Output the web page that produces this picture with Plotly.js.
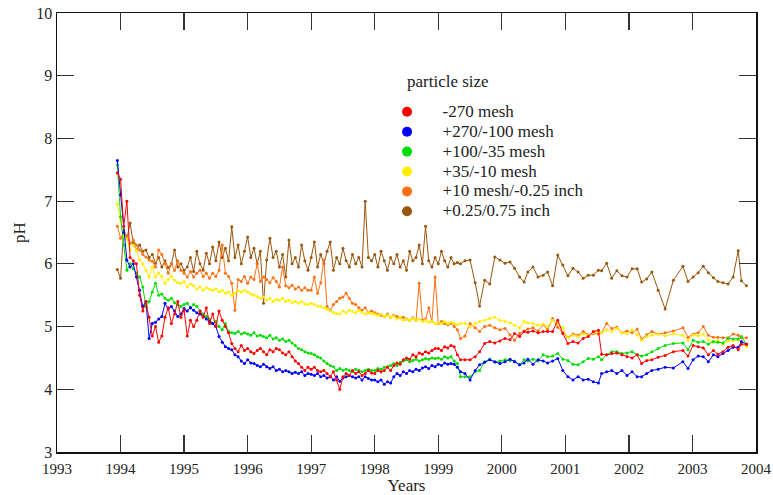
<!DOCTYPE html>
<html>
<head>
<meta charset="utf-8">
<script src="https://cdn.plot.ly/plotly-3.0.1.min.js"></script>
<style>
  html, body { margin: 0; padding: 0; background: #ffffff; }
  #chart { width: 773px; height: 495px; }
</style>
</head>
<body>
<div id="chart"></div>
<script>
// Sampling dates (decimal years): frequent sampling to early 1999, monthly afterwards
const yearsFrequent = [1993.95,
  1994.00, 1994.05, 1994.10, 1994.15, 1994.20, 1994.25, 1994.30, 1994.35, 1994.40, 1994.45,
  1994.50, 1994.55, 1994.60, 1994.65, 1994.70, 1994.75, 1994.80, 1994.85, 1994.90, 1994.95,
  1995.00, 1995.05, 1995.10, 1995.15, 1995.20, 1995.25, 1995.30, 1995.35, 1995.40, 1995.45,
  1995.50, 1995.55, 1995.60, 1995.65, 1995.70, 1995.75, 1995.80, 1995.85, 1995.90, 1995.95,
  1996.00, 1996.05, 1996.10, 1996.15, 1996.20, 1996.25, 1996.30, 1996.35, 1996.40, 1996.45,
  1996.50, 1996.55, 1996.60, 1996.65, 1996.70, 1996.75, 1996.80, 1996.85, 1996.90, 1996.95,
  1997.00, 1997.05, 1997.10, 1997.15, 1997.20, 1997.25, 1997.30, 1997.35, 1997.40, 1997.45,
  1997.50, 1997.55, 1997.60, 1997.65, 1997.70, 1997.75, 1997.80, 1997.85, 1997.90, 1997.95,
  1998.00, 1998.05, 1998.10, 1998.15, 1998.20, 1998.25, 1998.30, 1998.35, 1998.40, 1998.45,
  1998.50, 1998.55, 1998.60, 1998.65, 1998.70, 1998.75, 1998.80, 1998.85, 1998.90, 1998.95,
  1999.00, 1999.05, 1999.10, 1999.15, 1999.20, 1999.25, 1999.30, 1999.35];

const yearsMonthly = [
  1999.42, 1999.50, 1999.58, 1999.65, 1999.73, 1999.81, 1999.89, 1999.97,
  2000.05, 2000.13, 2000.20, 2000.28, 2000.35, 2000.41, 2000.49, 2000.57, 2000.65, 2000.72, 2000.80, 2000.88, 2000.96,
  2001.04, 2001.12, 2001.20, 2001.28, 2001.36, 2001.44, 2001.52, 2001.57, 2001.65, 2001.73, 2001.81, 2001.89, 2001.97,
  2002.05, 2002.13, 2002.20, 2002.28, 2002.36, 2002.46, 2002.57, 2002.70, 2002.85, 2002.93,
  2003.01, 2003.09, 2003.17, 2003.25, 2003.33, 2003.40, 2003.48, 2003.56, 2003.64, 2003.72, 2003.77, 2003.85];

// pH of leachate, -270 mesh
const phMinus270 = [7.45,
  7.35, 6.6, 7.0, 6.1, 6.05, 6.0, 5.5, 5.25, 5.4, 5.15, 4.85, 5.0, 4.75, 4.85, 5.15, 5.3, 5.05, 5.2, 5.4, 5.15,
  5.26, 4.85, 5.1, 5.0, 5.1, 5.25, 5.15, 5.3, 5.05, 5.2, 5.0, 5.25, 5.1, 5.0, 4.9, 4.73, 4.65, 4.6, 4.7, 4.62,
  4.65, 4.6, 4.57, 4.62, 4.65, 4.6, 4.55, 4.63, 4.6, 4.65, 4.63, 4.58, 4.55, 4.6, 4.52, 4.45, 4.41, 4.35, 4.3, 4.35,
  4.32, 4.35, 4.3, 4.28, 4.3, 4.25, 4.2, 4.28, 4.15, 4.0, 4.2, 4.25, 4.22, 4.3, 4.25, 4.28, 4.22, 4.25, 4.3, 4.26,
  4.25, 4.3, 4.28, 4.3, 4.35, 4.3, 4.38, 4.42, 4.4, 4.47, 4.5, 4.48, 4.55, 4.52, 4.58, 4.56, 4.6, 4.58, 4.62, 4.65,
  4.65, 4.62, 4.68, 4.66, 4.7, 4.68, 4.55, 4.47,
  4.47, 4.47, 4.52, 4.60, 4.73, 4.76, 4.74, 4.77,
  4.81, 4.79, 4.89, 4.84, 4.92, 4.91, 4.93, 4.90, 4.92, 4.92, 4.92, 5.10, 4.89,
  4.73, 4.76, 4.74, 4.81, 4.84, 4.92, 4.94, 4.56, 4.55, 4.57, 4.58, 4.55, 4.52,
  4.50, 4.55, 4.41, 4.46, 4.47, 4.51, 4.54, 4.60, 4.62, 4.53,
  4.70, 4.68, 4.66, 4.55, 4.62, 4.56, 4.60, 4.67, 4.70, 4.63, 4.72, 4.72];

// +270/-100 mesh
const ph270to100 = [7.65,
  7.1, 6.5, 6.06, 5.95, 6.0, 5.79, 5.58, 5.32, 5.4, 4.81, 5.05, 5.07, 5.12, 5.16, 5.37, 5.28, 5.32, 5.25, 5.16, 5.2,
  5.29, 5.25, 5.3, 5.26, 5.22, 5.2, 5.16, 5.12, 5.08, 5.05, 5.0, 4.84, 4.75, 4.68, 4.65, 4.63, 4.55, 4.52, 4.45, 4.41,
  4.47, 4.42, 4.41, 4.38, 4.36, 4.4, 4.36, 4.33, 4.36, 4.3, 4.32, 4.28, 4.3, 4.28, 4.25, 4.27, 4.25, 4.28, 4.22, 4.25,
  4.24, 4.22, 4.25, 4.2, 4.22, 4.18, 4.2, 4.15, 4.2, 4.13, 4.18, 4.2, 4.22, 4.2, 4.18, 4.2, 4.15, 4.2, 4.17, 4.15,
  4.15, 4.12, 4.15, 4.08, 4.12, 4.1, 4.2, 4.25, 4.22, 4.28, 4.25, 4.3, 4.28, 4.32, 4.3, 4.34, 4.36, 4.33, 4.38, 4.36,
  4.4, 4.38, 4.42, 4.4, 4.41, 4.4, 4.35, 4.28,
  4.25, 4.15, 4.30, 4.39, 4.43, 4.47, 4.44, 4.41,
  4.44, 4.48, 4.44, 4.39, 4.42, 4.48, 4.40, 4.47, 4.45, 4.42, 4.45, 4.49, 4.30,
  4.20, 4.15, 4.20, 4.15, 4.16, 4.12, 4.10, 4.25, 4.28, 4.30, 4.25, 4.30, 4.22,
  4.28, 4.20, 4.20, 4.25, 4.30, 4.32, 4.35, 4.34, 4.44, 4.33,
  4.47, 4.53, 4.52, 4.44, 4.55, 4.52, 4.57, 4.62, 4.67, 4.67, 4.76, 4.72];

// +100/-35 mesh
const ph100to35 = [7.58,
  6.75, 6.3, 5.9, 6.0, 5.92, 5.85, 5.79, 5.63, 5.32, 5.4, 5.55, 5.69, 5.5, 5.52, 5.45, 5.42, 5.45, 5.38, 5.35, 5.32,
  5.35, 5.37, 5.3, 5.35, 5.32, 5.25, 5.2, 5.16, 5.12, 5.05, 5.08, 5.0, 4.95, 5.05, 4.92, 4.9, 4.89, 4.92, 4.88, 4.9,
  4.88, 4.86, 4.9, 4.85, 4.86, 4.84, 4.82, 4.86, 4.8, 4.82, 4.78, 4.8, 4.76, 4.78, 4.74, 4.7, 4.65, 4.63, 4.6, 4.58,
  4.57, 4.55, 4.52, 4.5, 4.45, 4.41, 4.38, 4.36, 4.3, 4.33, 4.3, 4.32, 4.3, 4.28, 4.32, 4.3, 4.28, 4.3, 4.32, 4.3,
  4.3, 4.33, 4.32, 4.35, 4.36, 4.38, 4.41, 4.38, 4.43, 4.45, 4.47, 4.44, 4.46, 4.48, 4.45, 4.47, 4.49, 4.48, 4.5, 4.49,
  4.5, 4.48, 4.52, 4.5, 4.52, 4.45, 4.41, 4.2,
  4.20, 4.20, 4.28, 4.30, 4.44, 4.48, 4.43, 4.45,
  4.47, 4.46, 4.45, 4.39, 4.47, 4.45, 4.48, 4.45, 4.55, 4.52, 4.53, 4.57, 4.48,
  4.46, 4.40, 4.39, 4.44, 4.49, 4.48, 4.52, 4.47, 4.55, 4.60, 4.60, 4.57, 4.58,
  4.60, 4.55, 4.53, 4.55, 4.60, 4.65, 4.70, 4.73, 4.74, 4.63,
  4.78, 4.75, 4.76, 4.72, 4.76, 4.75, 4.74, 4.81, 4.80, 4.80, 4.84, 4.72];

// +35/-10 mesh
const ph35to10 = [6.95,
  6.7, 6.43, 6.4, 6.22, 6.3, 6.22, 6.06, 6.0, 5.9, 5.79, 5.95, 5.79, 5.85, 5.8, 5.69, 5.75, 5.8, 5.74, 5.7, 5.69,
  5.72, 5.63, 5.68, 5.65, 5.6, 5.63, 5.58, 5.62, 5.6, 5.58, 5.6, 5.55, 5.58, 5.53, 5.55, 5.5, 5.53, 5.57, 5.55, 5.58,
  5.55, 5.52, 5.5, 5.48, 5.45, 5.47, 5.42, 5.45, 5.4, 5.43, 5.42, 5.45, 5.4, 5.42, 5.38, 5.4, 5.37, 5.4, 5.36, 5.35,
  5.37, 5.35, 5.33, 5.32, 5.3, 5.28, 5.25, 5.22, 5.21, 5.2, 5.25, 5.22, 5.26, 5.24, 5.22, 5.26, 5.23, 5.2, 5.22, 5.21,
  5.2, 5.18, 5.2, 5.16, 5.18, 5.15, 5.17, 5.12, 5.15, 5.1, 5.12, 5.1, 5.13, 5.1, 5.12, 5.08, 5.1, 5.07, 5.08, 5.05,
  5.06, 5.05, 5.08, 5.05, 5.07, 5.05, 5.03, 5.05,
  5.05, 5.00, 5.05, 5.08, 5.10, 5.13, 5.15, 5.10,
  5.08, 5.06, 5.02, 4.98, 5.08, 5.06, 5.05, 5.02, 5.04, 5.00, 5.10, 5.05, 4.98,
  4.82, 4.86, 4.84, 4.88, 4.86, 4.90, 4.92, 4.90, 4.95, 4.92, 4.97, 4.90, 4.89,
  4.95, 4.87, 4.78, 4.84, 4.86, 4.88, 4.85, 4.88, 4.86, 4.78,
  4.87, 4.85, 4.88, 4.78, 4.75, 4.78, 4.72, 4.77, 4.78, 4.79, 4.72, 4.68];

// +10 mesh/-0.25 inch
const ph10toQuarter = [6.6,
  6.41, 6.5, 6.45, 6.33, 6.38, 6.3, 6.22, 6.15, 6.11, 6.06, 6.04, 5.95, 6.22, 6.15, 6.0, 5.85, 6.0, 5.9, 6.05, 5.9,
  5.85, 5.79, 5.88, 5.79, 5.85, 5.9, 5.8, 5.85, 5.77, 5.85, 5.8, 5.9, 6.3, 5.85, 5.8, 5.69, 5.26, 5.75, 5.72, 5.8,
  5.69, 5.79, 5.75, 6.0, 5.72, 5.79, 5.75, 5.7, 5.78, 5.72, 5.63, 5.95, 5.65, 5.62, 5.66, 5.6, 5.63, 5.58, 5.62, 5.58,
  5.58, 5.79, 5.53, 5.7, 6.06, 5.32, 5.26, 5.35, 5.4, 5.45, 5.47, 5.53, 5.45, 5.37, 5.35, 5.3, 5.26, 5.3, 5.22, 5.25,
  5.22, 5.2, 5.18, 5.16, 5.2, 5.15, 5.18, 5.16, 5.14, 5.15, 5.12, 5.1, 5.14, 5.1, 5.69, 5.1, 5.12, 5.3, 5.08, 5.79,
  5.05, 5.08, 5.05, 5.03, 5.05, 5.0, 4.95, 4.81,
  4.85, 5.05, 4.98, 4.92, 5.00, 5.02, 4.98, 4.95,
  4.97, 4.87, 4.78, 4.89, 4.93, 4.96, 4.98, 4.93, 5.03, 4.95, 5.13, 4.99, 4.90,
  4.83, 4.88, 4.86, 4.92, 4.87, 4.89, 4.88, 4.90, 5.05, 4.97, 4.99, 4.90, 4.93,
  4.90, 4.96, 4.80, 4.87, 4.92, 4.88, 4.90, 4.93, 4.98, 4.83,
  4.88, 4.90, 5.00, 4.86, 4.83, 4.83, 4.82, 4.82, 4.88, 4.86, 4.82, 4.82];

// +0.25/0.75 inch
const phQuarterTo075 = [5.91,
  5.77, 6.54, 6.4, 6.65, 6.33, 6.22, 6.3, 6.2, 6.22, 6.1, 6.15, 6.01, 6.1, 5.95, 6.05, 5.94, 6.0, 6.22, 5.95, 6.0,
  5.9, 5.95, 6.1, 5.88, 6.2, 6.0, 5.9, 6.17, 6.0, 6.27, 6.05, 6.35, 6.1, 6.25, 6.05, 6.59, 6.1, 6.3, 6.0, 6.2,
  6.43, 6.1, 6.25, 6.0, 6.2, 5.37, 6.06, 6.41, 6.1, 6.2, 5.95, 6.15, 5.79, 6.38, 6.0, 6.1, 5.95, 6.3, 6.05, 5.9,
  6.1, 6.35, 5.95, 6.15, 6.0, 6.2, 6.35, 5.9, 6.1, 6.0, 6.25, 6.05, 5.95, 6.15, 6.0, 6.1, 5.95, 7.0, 6.1, 6.05,
  6.15, 5.95, 6.2, 6.05, 5.9, 6.1, 6.0, 6.15, 5.95, 6.05, 5.9, 6.2, 6.05, 6.1, 6.3, 6.0, 6.6, 6.05, 5.95, 6.1,
  6.0, 6.2, 6.05, 5.95, 6.1, 6.0, 6.02, 6.0,
  6.05, 6.06, 5.70, 5.33, 5.74, 5.68, 6.11, 6.06,
  6.01, 6.03, 5.93, 5.79, 5.71, 5.87, 5.95, 5.79, 5.82, 5.87, 5.65, 6.14, 5.98,
  5.81, 5.93, 5.87, 5.77, 5.82, 5.82, 5.90, 5.89, 6.01, 5.77, 5.89, 5.81, 5.79,
  5.92, 5.92, 5.71, 5.76, 5.87, 5.58, 5.28, 5.74, 5.96, 5.72,
  5.79, 5.86, 5.96, 5.86, 5.78, 5.72, 5.70, 5.68, 5.79, 6.21, 5.73, 5.65];

const sizeNames = ['-270 mesh', '+270/-100 mesh', '+100/-35 mesh', '+35/-10 mesh',
                   '+10 mesh/-0.25 inch', '+0.25/0.75 inch'];
const sizeColors = ['#ff0000', '#0000ff', '#00dd00', '#ffee00', '#ff7010', '#9c560c'];
const sizeSeries = [phMinus270, ph270to100, ph100to35, ph35to10, ph10toQuarter, phQuarterTo075];

const years = yearsFrequent.concat(yearsMonthly);
const serif = '"Liberation Serif", "Times New Roman", serif';

const traces = [];
// draw the coarse fractions first so the fine ones sit on top
for (let i = sizeSeries.length - 1; i >= 0; i--) {
  traces.push({
    type: 'scatter', mode: 'lines+markers',
    x: years, y: sizeSeries[i],
    line: {color: sizeColors[i], width: 1},
    marker: {color: sizeColors[i], size: 3},
    showlegend: false, hoverinfo: 'x+y', name: sizeNames[i]
  });
}
// legend entries: a plain dot per fraction; the label is set larger than the
// legend's base font so the rows stay tightly packed
for (let i = 0; i < sizeSeries.length; i++) {
  traces.push({
    type: 'scatter', mode: 'markers',
    x: [null], y: [null],
    marker: {color: sizeColors[i], size: 10},
    name: '<span style="font-size:17px">' + sizeNames[i] + '</span>',
    showlegend: true
  });
}

const axisCommon = {
  ticks: 'inside', ticklen: 17, tickwidth: 1.2, tickcolor: '#333',
  showline: true, linecolor: '#111', linewidth: 1.5, mirror: 'ticks',
  showgrid: false, zeroline: false
};

const layout = {
  width: 773, height: 495,
  margin: {l: 57, r: 17, t: 13, b: 43},
  paper_bgcolor: '#ffffff', plot_bgcolor: '#ffffff',
  font: {family: serif, color: '#222', size: 16},
  xaxis: Object.assign({}, axisCommon, {
    range: [1993, 2004], dtick: 1, tick0: 1993,
    tickfont: {family: serif, size: 15, color: '#222'},
    ticklabelstandoff: 2,
    title: {text: 'Years', font: {family: serif, size: 17, color: '#222'}, standoff: 6}
  }),
  yaxis: Object.assign({}, axisCommon, {
    range: [3, 10], dtick: 1, tick0: 3,
    tickfont: {family: serif, size: 16, color: '#222'},
    title: {text: 'pH', font: {family: serif, size: 17, color: '#222'}, standoff: 6}
  }),
  legend: {
    x: 0.450, y: 0.809, xanchor: 'left', yanchor: 'top',
    bgcolor: 'rgba(0,0,0,0)', borderwidth: 0,
    itemwidth: 61, itemclick: false,
    font: {family: serif, size: 13, color: '#222'}
  },
  annotations: [{
    text: 'particle size', xref: 'paper', yref: 'paper',
    x: 0.498, y: 0.845, xanchor: 'left', yanchor: 'middle', showarrow: false,
    font: {family: serif, size: 17, color: '#222'}
  }]
};

Plotly.newPlot('chart', traces, layout, {displayModeBar: false, staticPlot: true});
</script>
</body>
</html>
